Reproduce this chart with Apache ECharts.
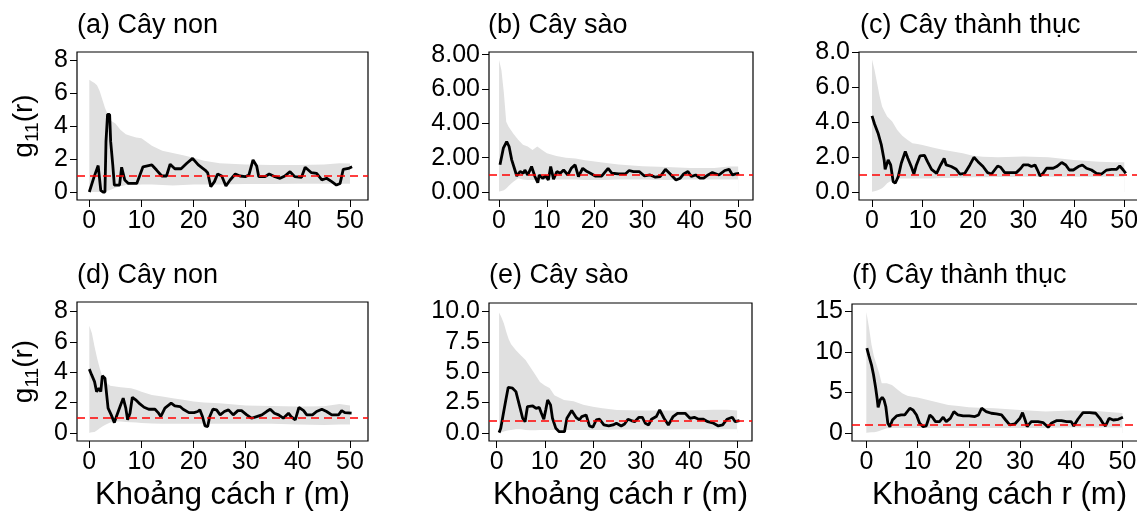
<!DOCTYPE html>
<html>
<head>
<meta charset="utf-8">
<script src="https://cdn.jsdelivr.net/npm/echarts@6.0.0/dist/echarts.min.js"></script>
<style>
html, body { margin: 0; padding: 0; background: #fff; }
#main { width: 1137px; height: 513px; }
</style>
</head>
<body>
<div id="main"></div>
<script>
// r values of the simulation envelope
const envR  = [0, 0.5, 1, 1.5, 2, 2.5, 3, 4, 5, 6, 7, 8, 9, 10, 12, 14, 16, 18, 20, 22, 25, 30, 35, 40, 45, 48, 50];
const envRE = [0.5, 1, 1.5, 2, 2.5, 3, 4, 5, 6, 7, 8, 9, 10, 11, 12, 14, 16, 18, 20, 22, 25, 30, 35, 40, 45, 48, 50];

// (a) Cây non
const rA = [0, 0.9, 1.7, 2.2, 2.6, 3.0, 3.2, 3.5, 3.9, 4.1, 4.5, 4.8, 5.8, 6.2, 6.8, 7.5, 9.1, 9.4, 10.3, 12.0, 12.9, 13.9, 14.8, 15.5, 16.4, 17.6, 18.7, 19.8, 20.9, 22.2, 22.7, 23.3, 24.0, 24.6, 25.4, 26.2, 27.0, 28.0, 28.9, 29.9, 30.6, 31.4, 32.1, 32.5, 33.7, 34.5, 35.6, 36.6, 37.5, 38.5, 39.4, 40.7, 41.4, 42.6, 43.6, 44.6, 45.5, 46.5, 47.4, 48.1, 48.7, 49.7, 50.4];
const gA = [0.0, 0.9, 1.6, 0.1, 0.0, 0.0, 3.05, 4.7, 4.7, 3.05, 1.65, 0.42, 0.42, 1.5, 0.73, 0.52, 0.52, 0.42, 1.53, 1.64, 1.33, 0.97, 0.97, 1.68, 1.41, 1.41, 1.74, 2.04, 1.64, 1.33, 1.17, 0.32, 0.63, 1.09, 0.97, 0.36, 0.73, 1.09, 0.97, 0.93, 1.03, 1.94, 1.58, 0.93, 0.93, 1.09, 0.93, 0.83, 0.97, 1.23, 0.93, 0.89, 1.5, 1.17, 1.13, 0.73, 0.83, 0.63, 0.42, 0.52, 1.37, 1.43, 1.53];
const hiA = [6.8, 6.7, 6.6, 6.45, 6.1, 5.6, 5.1, 4.35, 4.15, 3.75, 3.5, 3.4, 3.3, 3.25, 2.8, 2.5, 2.36, 2.22, 2.08, 1.9, 1.74, 1.66, 1.64, 1.64, 1.66, 1.74, 1.72];
const loA = [0, 0, 0, 0, 0, 0.02, 0.05, 0.12, 0.25, 0.35, 0.42, 0.42, 0.42, 0.45, 0.45, 0.42, 0.4, 0.42, 0.45, 0.45, 0.45, 0.48, 0.48, 0.5, 0.5, 0.5, 0.5];

// (b) Cây sào
const rB = [0.2, 0.9, 1.6, 2.1, 2.65, 3.2, 3.7, 4.4, 5.1, 5.4, 6.0, 6.8, 7.5, 8.1, 8.4, 9.1, 9.8, 10.3, 10.8, 11.4, 12.1, 12.8, 13.5, 14.4, 15.1, 15.9, 16.6, 17.5, 18.4, 19.1, 20.1, 21.5, 22.8, 23.6, 25.0, 26.4, 27.2, 28.1, 29.3, 30.4, 31.6, 32.7, 33.7, 34.8, 35.8, 37.0, 37.9, 38.6, 39.5, 40.2, 41.1, 42.0, 42.8, 43.7, 44.6, 46.0, 47.2, 48.1, 48.8, 49.5, 50.2];
const gB = [1.58, 2.55, 2.94, 2.65, 1.87, 1.38, 0.93, 1.19, 1.09, 1.28, 0.99, 1.48, 0.9, 0.54, 0.99, 0.8, 0.93, 0.7, 1.48, 0.74, 1.19, 1.09, 1.28, 0.99, 1.38, 1.58, 0.9, 1.38, 1.19, 1.09, 0.93, 0.93, 1.38, 1.09, 1.05, 1.05, 1.25, 1.19, 1.19, 0.93, 0.99, 0.86, 0.9, 1.32, 1.05, 0.7, 0.8, 1.05, 1.19, 0.9, 0.99, 0.8, 0.8, 0.99, 1.13, 0.99, 1.25, 1.32, 0.99, 1.05, 1.09];
const hiB = [7.7, 7.1, 5.8, 4.1, 3.8, 3.6, 3.4, 3.05, 2.75, 2.65, 2.45, 2.65, 2.45, 2.25, 2.1, 2.0, 1.95, 1.85, 1.77, 1.7, 1.6, 1.5, 1.45, 1.4, 1.4, 1.48, 1.48];
const loB = [0.02, 0.05, 0.1, 0.2, 0.35, 0.48, 0.6, 0.8, 0.72, 0.7, 0.7, 0.7, 0.7, 0.7, 0.72, 0.72, 0.72, 0.7, 0.7, 0.7, 0.72, 0.72, 0.7, 0.72, 0.72, 0.72, 0.72];

// (c) Cây thành thục
const rC = [0, 0.5, 1.2, 1.85, 2.4, 2.6, 3.2, 3.7, 4.2, 4.6, 5.2, 5.8, 6.6, 7.1, 7.8, 8.3, 8.8, 9.5, 10.4, 11.0, 11.8, 12.8, 13.6, 14.3, 14.7, 15.7, 16.7, 17.4, 18.4, 19.4, 20.2, 21.0, 22.0, 22.9, 23.7, 24.3, 24.9, 25.5, 26.3, 27.3, 28.6, 29.5, 30.0, 31.0, 31.6, 32.3, 32.8, 33.3, 33.9, 34.6, 35.9, 36.6, 37.6, 38.4, 39.1, 39.9, 40.9, 41.7, 42.5, 43.5, 44.5, 45.5, 46.5, 47.5, 48.5, 49.1, 49.8, 50.3];
const gC = [4.37, 3.9, 3.37, 2.7, 1.84, 1.3, 1.84, 1.55, 0.59, 0.5, 0.88, 1.65, 2.32, 1.93, 1.44, 1.03, 1.55, 2.07, 2.1, 1.74, 1.3, 1.07, 1.55, 1.92, 1.55, 1.46, 1.3, 1.03, 1.07, 1.55, 1.99, 1.74, 1.46, 1.11, 1.03, 1.26, 1.49, 1.42, 1.11, 1.11, 1.11, 1.36, 1.55, 1.55, 1.46, 1.55, 1.26, 0.92, 1.07, 1.36, 1.36, 1.46, 1.69, 1.55, 1.26, 1.26, 1.46, 1.55, 1.36, 1.26, 1.07, 1.03, 1.26, 1.3, 1.3, 1.49, 1.26, 1.07];
const hiC = [7.6, 7.0, 6.25, 5.5, 4.9, 4.6, 4.33, 4.04, 3.56, 3.22, 3.0, 2.8, 2.75, 2.7, 2.55, 2.42, 2.32, 2.22, 2.08, 2.02, 1.99, 2.03, 1.99, 1.84, 1.74, 1.7, 1.7];
const loC = [0.02, 0.04, 0.08, 0.14, 0.21, 0.35, 0.5, 0.69, 0.78, 0.78, 0.78, 0.78, 0.78, 0.78, 0.78, 0.8, 0.8, 0.82, 0.85, 0.85, 0.86, 0.88, 0.88, 0.88, 0.88, 0.88, 0.88];

// (d) Cây non
const rD = [0, 0.45, 1.0, 1.4, 1.85, 2.2, 2.5, 3.0, 3.3, 3.6, 4.2, 4.8, 5.2, 5.9, 6.5, 7.0, 7.35, 7.8, 8.25, 8.9, 9.7, 10.5, 11.4, 12.6, 13.2, 13.7, 14.5, 15.7, 16.4, 17.4, 18.0, 19.1, 20.1, 20.8, 21.2, 21.7, 22.2, 22.7, 23.1, 23.7, 24.4, 25.1, 25.9, 26.7, 27.6, 28.5, 29.2, 30.2, 31.1, 32.1, 33.1, 34.0, 34.7, 35.5, 36.3, 37.2, 38.2, 38.7, 39.5, 40.2, 41.1, 41.7, 42.8, 43.6, 44.6, 45.5, 46.5, 47.8, 48.4, 49.0, 50.3];
const gD = [4.2, 3.82, 3.38, 2.72, 2.94, 2.72, 3.76, 3.6, 2.62, 1.63, 1.19, 0.68, 1.08, 1.74, 2.29, 1.63, 0.86, 1.3, 2.35, 2.18, 1.91, 1.69, 1.56, 1.56, 1.34, 1.08, 1.63, 1.96, 1.78, 1.74, 1.56, 1.34, 1.34, 1.41, 1.52, 1.08, 0.46, 0.42, 1.08, 1.56, 1.52, 1.19, 1.41, 1.52, 1.19, 1.47, 1.47, 1.19, 0.97, 1.08, 1.19, 1.41, 1.56, 1.3, 1.19, 0.97, 1.3, 1.08, 0.86, 1.69, 1.47, 1.19, 1.19, 1.41, 1.56, 1.41, 1.19, 1.19, 1.47, 1.34, 1.3];
const hiD = [7.05, 6.57, 5.69, 4.92, 4.26, 3.71, 3.38, 3.1, 3.05, 3.0, 2.97, 2.94, 2.85, 2.72, 2.5, 2.4, 2.29, 2.18, 2.07, 2.0, 1.96, 1.8, 1.78, 1.74, 1.75, 1.9, 1.8];
const loD = [0.02, 0.04, 0.07, 0.18, 0.31, 0.42, 0.53, 0.68, 0.75, 0.75, 0.72, 0.7, 0.68, 0.65, 0.62, 0.6, 0.6, 0.6, 0.6, 0.6, 0.6, 0.6, 0.6, 0.55, 0.53, 0.55, 0.55];

// (e) Cây sào
const rE = [0.5, 0.85, 1.4, 1.9, 2.4, 3.3, 4.0, 4.7, 5.4, 5.9, 6.4, 7.5, 8.2, 8.85, 9.3, 9.8, 10.2, 10.6, 11.2, 11.6, 12.3, 13.0, 14.1, 14.6, 15.6, 16.5, 17.2, 17.7, 18.6, 19.3, 20.0, 20.7, 21.4, 22.3, 23.3, 24.2, 24.9, 25.9, 26.6, 27.3, 28.0, 28.7, 29.6, 30.3, 30.9, 31.6, 32.2, 33.2, 33.9, 34.8, 35.7, 36.7, 37.6, 39.2, 40.2, 41.1, 42.0, 43.0, 43.9, 45.1, 46.1, 47.0, 47.9, 49.0, 49.6, 50.5];
const gE = [0.03, 0.38, 1.62, 2.72, 3.76, 3.68, 3.4, 2.31, 1.21, 0.93, 2.17, 2.22, 2.03, 2.1, 1.62, 1.13, 1.9, 2.72, 2.31, 1.21, 0.38, 0.11, 0.11, 1.21, 1.84, 1.29, 1.07, 1.35, 1.48, 0.58, 0.47, 1.07, 1.13, 0.66, 0.58, 0.66, 0.8, 0.58, 0.74, 1.13, 1.02, 0.93, 1.29, 1.29, 0.8, 0.66, 1.13, 1.35, 1.9, 1.21, 0.66, 1.35, 1.62, 1.62, 1.21, 1.29, 1.13, 1.13, 0.93, 0.8, 0.58, 0.66, 1.13, 1.29, 0.93, 1.02];
const hiE = [9.9, 9.5, 9.0, 8.3, 7.7, 7.3, 6.8, 6.4, 6.0, 5.4, 4.8, 4.2, 3.9, 3.7, 3.1, 2.72, 2.6, 2.33, 2.15, 2.03, 1.88, 1.85, 1.85, 1.85, 1.9, 1.92, 1.85];
const loE = [0.0, 0.05, 0.12, 0.19, 0.22, 0.25, 0.3, 0.3, 0.25, 0.22, 0.22, 0.25, 0.25, 0.25, 0.25, 0.25, 0.25, 0.25, 0.25, 0.25, 0.28, 0.28, 0.28, 0.3, 0.3, 0.3, 0.3];

// (f) Cây thành thục
const rF = [0.1, 0.5, 1.0, 1.4, 1.8, 2.1, 2.3, 2.7, 3.1, 3.45, 3.8, 4.2, 4.6, 5.1, 5.9, 6.8, 7.5, 8.5, 9.1, 9.8, 10.4, 11.1, 11.7, 12.4, 12.9, 13.5, 14.3, 15.0, 15.6, 16.4, 17.1, 17.9, 18.9, 20.1, 21.2, 21.9, 22.5, 23.4, 24.4, 25.4, 26.4, 27.2, 28.0, 29.0, 30.0, 30.5, 31.0, 31.4, 32.2, 33.5, 34.5, 35.5, 36.1, 37.1, 38.1, 39.1, 40.0, 40.5, 41.3, 42.3, 43.6, 44.8, 45.6, 46.2, 46.7, 47.4, 48.2, 49.2, 50.1];
const gF = [10.47, 9.5, 8.4, 7.17, 5.64, 4.28, 3.17, 4.08, 4.4, 4.08, 3.26, 1.19, 0.78, 1.6, 2.1, 2.22, 2.22, 3.05, 2.84, 2.22, 1.19, 0.78, 0.87, 2.22, 1.94, 1.4, 1.4, 1.94, 1.4, 1.81, 2.64, 2.22, 2.1, 2.1, 2.02, 2.22, 3.05, 2.64, 2.43, 2.35, 2.22, 1.6, 0.99, 1.11, 1.81, 2.51, 1.6, 0.78, 1.4, 1.4, 1.28, 0.7, 1.19, 1.52, 1.52, 1.4, 1.4, 0.87, 1.69, 2.51, 2.51, 2.43, 1.81, 1.19, 0.87, 1.81, 1.6, 1.69, 1.94];
const hiF = [14.9, 13.1, 10.9, 9.4, 8.4, 7.4, 6.14, 6.14, 5.9, 5.4, 4.9, 4.6, 4.45, 4.37, 4.08, 3.75, 3.46, 3.34, 3.17, 3.1, 3.05, 2.84, 2.64, 2.76, 2.7, 2.55, 2.45];
const loF = [0.04, 0.06, 0.08, 0.1, 0.16, 0.25, 0.37, 0.58, 0.6, 0.6, 0.6, 0.6, 0.6, 0.6, 0.6, 0.6, 0.6, 0.6, 0.6, 0.6, 0.62, 0.62, 0.62, 0.66, 0.66, 0.66, 0.66];

// ticks
const xTicks = [0, 10, 20, 30, 40, 50];
const yTicks8 = [0, 2, 4, 6, 8];
const yTicksE = [0, 2.5, 5, 7.5, 10];
const yTicksF = [0, 5, 10, 15];
const refLine = 1; // g(r) = 1 under CSR

const titles = ['(a) Cây non', '(b) Cây sào', '(c) Cây thành thục', '(d) Cây non', '(e) Cây sào', '(f) Cây thành thục'];
const xName = 'Khoảng cách r (m)';

const FONT = "'Liberation Sans', Arial, sans-serif";

// layout for each panel: box = [left, top, width, height] in px
const panels = [
  { r: rA, g: gA, er: envR, hi: hiA, lo: loA, yt: yTicks8, dec: 0, box: [77, 52, 291, 148], xr: [-2.36, 53.45], yr: [-0.485, 8.485], tl: [77, 12] },
  { r: rB, g: gB, er: envR, hi: hiB, lo: loB, yt: yTicks8, dec: 2, box: [489, 52, 264, 148], xr: [-2.1, 53.1], yr: [-0.47, 8.16], tl: [488, 12] },
  { r: rC, g: gC, er: envR, hi: hiC, lo: loC, yt: yTicks8, dec: 1, box: [859, 52, 290, 148], xr: [-2.58, 54.9], yr: [-0.46, 8.03], tl: [860, 12] },
  { r: rD, g: gD, er: envR, hi: hiD, lo: loD, yt: yTicks8, dec: 0, box: [77, 302, 291, 139], xr: [-2.36, 53.45], yr: [-0.53, 8.62], tl: [77, 262] },
  { r: rE, g: gE, er: envRE, hi: hiE, lo: loE, yt: yTicksE, dec: 1, box: [489, 303, 263, 138], xr: [-1.6, 53.1], yr: [-0.66, 10.69], tl: [489, 262] },
  { r: rF, g: gF, er: envR, hi: hiF, lo: loF, yt: yTicksF, dec: 0, box: [852, 304, 295, 137], xr: [-2.8, 54.8], yr: [-0.99, 15.9], tl: [852, 262] }
];

const gridList = [], xAxes = [], yAxes = [], seriesList = [], titleList = [];

panels.forEach(function (p, i) {
  gridList.push({
    left: p.box[0], top: p.box[1], width: p.box[2], height: p.box[3],
    show: true, borderColor: '#000', borderWidth: 1.2, backgroundColor: 'transparent',
    containLabel: false, outerBoundsMode: 'none'
  });
  titleList.push({
    text: titles[i], left: p.tl[0], top: p.tl[1], padding: 0,
    textStyle: { fontFamily: FONT, fontSize: 27, fontWeight: 'normal', color: '#000' }
  });
  const xa = {
    gridIndex: i, type: 'value', min: p.xr[0], max: p.xr[1],
    axisLine: { show: false, onZero: false },
    axisTick: { show: true, length: 7, lineStyle: { color: '#000', width: 1 }, customValues: xTicks },
    axisLabel: { customValues: xTicks, fontFamily: FONT, fontSize: 25, color: '#000', margin: 9 },
    splitLine: { show: false }
  };
  if (i >= 3) {
    xa.name = xName;
    xa.nameLocation = 'middle';
    xa.nameGap = 39;
    xa.nameTextStyle = { fontFamily: FONT, fontSize: 31, color: '#000' };
  }
  xAxes.push(xa);
  const ya = {
    gridIndex: i, type: 'value', min: p.yr[0], max: p.yr[1],
    axisLine: { show: false, onZero: false },
    axisTick: { show: true, length: 7, lineStyle: { color: '#000', width: 1 }, customValues: p.yt },
    axisLabel: {
      customValues: p.yt, fontFamily: FONT, fontSize: 25, color: '#000', margin: 9,
      formatter: (function (d) { return function (v) { return Number(v).toFixed(d); }; })(p.dec)
    },
    splitLine: { show: false }
  };
  if (i === 0 || i === 3) {
    ya.name = '{g|g}{s|11}{g|(r)}';
    ya.nameLocation = 'middle';
    ya.nameGap = 35;
    ya.nameTextStyle = {
      rich: {
        g: { fontFamily: FONT, fontSize: 28, color: '#000', lineHeight: 36 },
        s: { fontFamily: FONT, fontSize: 19, color: '#000', verticalAlign: 'bottom' }
      }
    };
  }
  yAxes.push(ya);

  // envelope: grey fill from 0 up to the upper bound, then white from 0 up to the lower bound
  seriesList.push({
    type: 'line', xAxisIndex: i, yAxisIndex: i, symbol: 'none', silent: true, z: 2,
    lineStyle: { width: 0, opacity: 0 },
    areaStyle: { color: '#e0e0e0', opacity: 1, origin: 0 },
    data: p.er.map(function (r, k) { return [r, p.hi[k]]; })
  });
  seriesList.push({
    type: 'line', xAxisIndex: i, yAxisIndex: i, symbol: 'none', silent: true, z: 2,
    lineStyle: { width: 0, opacity: 0 },
    areaStyle: { color: '#ffffff', opacity: 1, origin: 0 },
    data: p.er.map(function (r, k) { return [r, p.lo[k]]; })
  });
  // observed g11(r)
  seriesList.push({
    type: 'line', xAxisIndex: i, yAxisIndex: i, symbol: 'none', silent: true, z: 4,
    lineStyle: { color: '#000', width: 2.8 },
    data: p.r.map(function (r, k) { return [r, p.g[k]]; }),
    markLine: {
      silent: true, symbol: ['none', 'none'], label: { show: false },
      lineStyle: { color: '#ff0000', type: [8, 5], width: 1.5 },
      data: [{ yAxis: refLine }]
    }
  });
});

const chart = echarts.init(document.getElementById('main'), null, { renderer: 'canvas' });
chart.setOption({
  animation: false,
  backgroundColor: '#fff',
  textStyle: { fontFamily: FONT },
  title: titleList,
  grid: gridList,
  xAxis: xAxes,
  yAxis: yAxes,
  series: seriesList
});
</script>
</body>
</html>
